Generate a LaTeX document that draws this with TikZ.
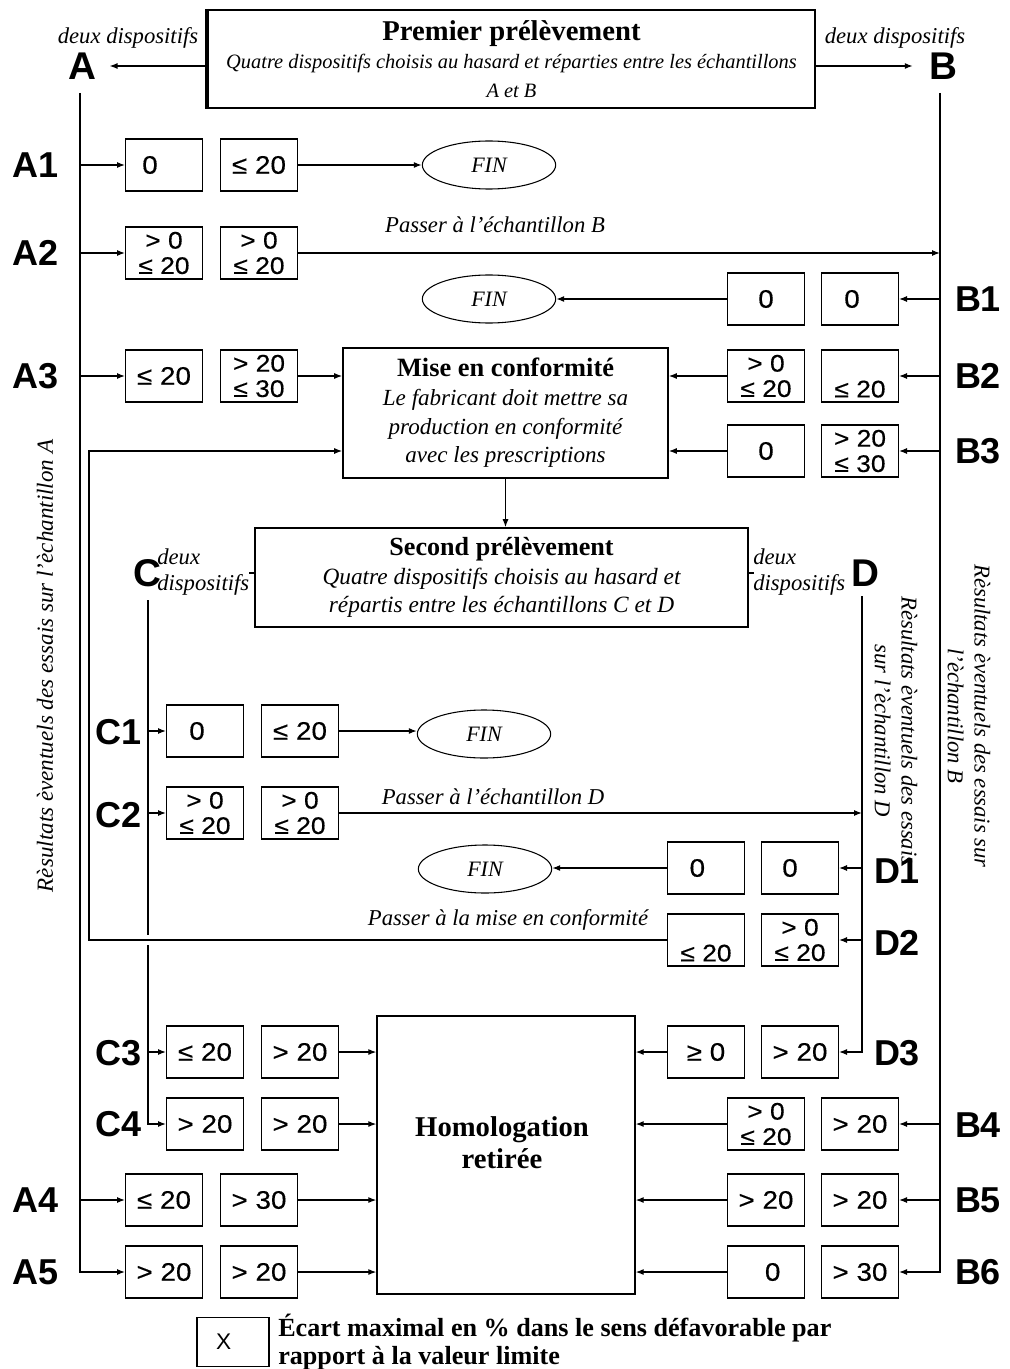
\documentclass[tikz,border=0pt]{standalone}
\usepackage{fontspec}
\setmainfont{Liberation Serif}
\newfontfamily\nf{Liberation Sans}
\newfontfamily\nfw[FakeStretch=1.1,FakeBold=0.4]{Liberation Sans}
\usetikzlibrary{arrows.meta,shapes.geometric,calc}
\tikzset{
 arr/.style={-{Latex[length=6pt,width=4.5pt]}, line width=0.9pt},
 ln/.style={line width=0.9pt},
 cell/.style={draw, line width=1pt, minimum width=57.5pt, minimum height=39pt, inner sep=0pt,
   font=\nfw\fontsize{19}{19}\selectfont, align=center},
 cellb/.style={cell, font=\nfw\fontsize{18}{19}\selectfont},
 lab/.style={font=\nf\bfseries\fontsize{27}{27}\selectfont, inner sep=0pt},
 biglab/.style={font=\nf\bfseries\fontsize{29}{29}\selectfont, inner sep=0pt},
 fin/.style={draw, ellipse, line width=0.8pt, minimum width=100pt, minimum height=36pt, inner sep=0pt,
   font=\itshape\fontsize{16.5}{16.5}\selectfont},
 itx/.style={font=\itshape\fontsize{17}{20}\selectfont, inner sep=0pt},
 bigbox/.style={draw, line width=1.2pt, inner sep=0pt, align=center},
}
\begin{document}
\begin{tikzpicture}[x=0.75pt,y=-0.75pt]
\useasboundingbox (0,0) rectangle (1009,1369);

% ---------- top box ----------
\node[bigbox, line width=1.8pt, minimum width=455pt, minimum height=73.5pt,
  font=\itshape\fontsize{15.3}{21.5}\selectfont] (top) at (511.5,59)
  {{\upshape\bfseries\fontsize{21.5}{21.5}\selectfont Premier prélèvement}\\
   Quatre dispositifs choisis au hasard et réparties entre les échantillons\\A et B};
\draw[line width=3pt] (top.north west) -- (top.south west);
\node[biglab] (lA) at (82,66) {A};
\node[biglab] (lB) at (943,66) {B};
\node[itx] (ddA) at (128,38) {deux dispositifs};
\node[itx] (ddB) at (895,38) {deux dispositifs};
\draw[arr, shorten >=10pt] (top.west |- lA) -- (lA.east);
\draw[arr, shorten >=12pt] (top.east |- lB) -- (lB.west);

\coordinate (Atop) at (80,93);
\coordinate (Btop) at (940,93);

% ---------- rows A / B ----------
\node[lab] (A1) at (36,165) {A1};
\node[cell] (a1l) at (164,165) {\hspace*{-21pt}0};
\node[cell] (a1r) at (259,165) {≤ 20};
\node[fin] (f1) at (489,165) {FIN};

\node[lab] (A2) at (36,253) {A2};
\node[cellb] (a2l) at (164,253) {> 0\\≤ 20};
\node[cellb] (a2r) at (259,253) {> 0\\≤ 20};
\node[itx] (pB) at (495,225) {Passer à l’échantillon B};

\node[lab] (B1) at (978,299) {B1};
\node[cell] (b1l) at (766,299) {0};
\node[cell] (b1r) at (860,299) {\hspace*{-12pt}0};
\node[fin] (f2) at (489,299) {FIN};

\node[lab] (A3) at (36,376) {A3};
\node[cell] (a3l) at (164,376) {≤ 20};
\node[cellb] (a3r) at (259,376) {> 20\\≤ 30};

\node[bigbox, minimum width=243.75pt, minimum height=97.5pt,
  font=\itshape\fontsize{17.3}{21.5}\selectfont] (mise) at (505.5,413)
  {{\upshape\bfseries\fontsize{19.8}{21.5}\selectfont Mise en conformité}\\
   Le fabricant doit mettre sa\\production en conformité\\avec les prescriptions};

\node[lab] (B2) at (978,376) {B2};
\node[cellb] (b2l) at (766,376) {> 0\\≤ 20};
\node[cellb] (b2r) at (860,376) {\strut\\≤ 20};

\node[lab] (B3) at (978,451) {B3};
\node[cell] (b3l) at (766,451) {0};
\node[cellb] (b3r) at (860,451) {> 20\\≤ 30};

% ---------- second box ----------
\node[bigbox, minimum width=369.75pt, minimum height=74.25pt,
  font=\itshape\fontsize{17.5}{21.5}\selectfont] (second) at (501.5,577.5)
  {{\upshape\bfseries\fontsize{19.6}{21.5}\selectfont Second prélèvement}\\
   Quatre dispositifs choisis au hasard et\\répartis entre les échantillons C et D};
\node[biglab] (lC) at (147,573) {C};
\node[biglab] (lD) at (865,573) {D};
\node[itx, anchor=west, align=left] (ddC) at (157,572) {deux\\dispositifs};
\node[itx, anchor=west, align=left] (ddD) at (753,572) {deux\\dispositifs};
\draw[ln] (second.west |- lC) -- ++(-5,0);
\draw[ln] (second.east |- lD) -- ++(5,0);

\coordinate (Ctop) at (148,600);
\coordinate (Dtop) at (862,596);

% ---------- rows C / D ----------
\node[lab] (C1) at (119,732) {C1};
\node[cell] (c1l) at (205,731) {\hspace*{-12pt}0};
\node[cell] (c1r) at (300,731) {≤ 20};
\node[fin] (f3) at (484,734) {FIN};

\node[lab] (C2) at (119,815) {C2};
\node[cellb] (c2l) at (205,813) {> 0\\≤ 20};
\node[cellb] (c2r) at (300,813) {> 0\\≤ 20};
\node[itx] (pD) at (493,797) {Passer à l’échantillon D};

\node[lab] (D1) at (897,871) {D1};
\node[cell] (d1l) at (706,868) {\hspace*{-13pt}0};
\node[cell] (d1r) at (800,868) {\hspace*{-15pt}0};
\node[fin] (f4) at (485,869) {FIN};

\node[lab] (D2) at (897,943) {D2};
\node[cellb] (d2l) at (706,940) {\strut\\≤ 20};
\node[cellb] (d2r) at (800,940) {> 0\\≤ 20};
\node[itx] (pM) at (508,920) {Passer à la mise en conformité};

% ---------- homologation ----------
\node[bigbox, line width=1pt, minimum width=193.5pt, minimum height=208.5pt] (hom) at (506,1155) {};
\node[align=center, inner sep=0pt, font=\bfseries\fontsize{21.5}{24}\selectfont] (homt) at (502,1143)
  {Homologation\\retirée};

\node[lab] (C3) at (119,1053) {C3};
\node[cell] (c3l) at (205,1052) {≤ 20};
\node[cell] (c3r) at (300,1052) {> 20};
\node[lab] (D3) at (897,1053) {D3};
\node[cell] (d3l) at (706,1052) {≥ 0};
\node[cell] (d3r) at (800,1052) {> 20};

\node[lab] (C4) at (119,1124) {C4};
\node[cell] (c4l) at (205,1124) {> 20};
\node[cell] (c4r) at (300,1124) {> 20};
\node[lab] (B4) at (978,1125) {B4};
\node[cellb] (b4l) at (766,1124) {> 0\\≤ 20};
\node[cell] (b4r) at (860,1124) {> 20};

\node[lab] (A4) at (36,1200) {A4};
\node[cell] (a4l) at (164,1200) {≤ 20};
\node[cell] (a4r) at (259,1200) {> 30};
\node[lab] (B5) at (978,1200) {B5};
\node[cell] (b5l) at (766,1200) {> 20};
\node[cell] (b5r) at (860,1200) {> 20};

\node[lab] (A5) at (36,1272) {A5};
\node[cell] (a5l) at (164,1272) {> 20};
\node[cell] (a5r) at (259,1272) {> 20};
\node[lab] (B6) at (978,1272) {B6};
\node[cell] (b6l) at (766,1272) {\hspace*{10pt}0};
\node[cell] (b6r) at (860,1272) {> 30};

% ---------- rotated texts ----------
\node[itx, rotate=90, font=\itshape\fontsize{17.3}{20}\selectfont] (rA) at (45,666) {Rèsultats èventuels des essais sur l’èchantillon A};
\node[itx, rotate=-90, align=center] (rB) at (969,716) {Rèsultats èventuels des essais sur\\l’èchantillon B};
\node[itx, rotate=-90, align=center] (rD) at (896,731) {Rèsultats èventuels des essais\\sur l’èchantillon D};

% ---------- legend ----------
\node[draw, line width=1pt, minimum width=54pt, minimum height=36.75pt, inner sep=0pt,
  font=\nf\fontsize{17}{17}\selectfont] (leg) at (233,1342) {\hspace*{-14pt}X};
\node[anchor=west, align=left, inner sep=0pt, font=\bfseries\fontsize{19.6}{21}\selectfont] (legt) at (278,1342)
  {Écart maximal en \% dans le sens défavorable par\\rapport à la valeur limite};

% ---------- connectors ----------
% A line
\draw[arr] (Atop) |- (a5l.west);
\foreach \n in {a1l,a2l,a3l,a4l}{\draw[arr] (\n.west -| Atop) -- (\n.west);}
% B line
\draw[arr] (Btop) |- (b6r.east);
\foreach \n in {b1r,b2r,b3r,b4r,b5r}{\draw[arr] (\n.east -| Btop) -- (\n.east);}
% C line
\draw[arr] (Ctop) |- (c4l.west);
\foreach \n in {c1l,c2l,c3l}{\draw[arr] (\n.west -| Ctop) -- (\n.west);}
% D line
\draw[arr] (Dtop) |- (d3r.east);
\foreach \n in {d1r,d2r}{\draw[arr] (\n.east -| Dtop) -- (\n.east);}

\draw[arr] (a1r.east) -- (f1.west);
\draw[arr] (a2r.east) -- (a2r.east -| Btop);
\draw[arr] (b1l.west) -- (f2.east);
\draw[arr] (a3r.east) -- (a3r.east -| mise.west);
\draw[arr] (b2l.west) -- (b2l.west -| mise.east);
\draw[arr] (b3l.west) -- (b3l.west -| mise.east);
\draw[arr] (mise.south) -- (mise.south |- second.north);

\draw[arr] (c1r.east) -- (c1r.east -| f3.west);
\draw[arr] (c2r.east) -- (c2r.east -| Dtop);
\draw[arr] (d1l.west) -- (d1l.west -| f4.east);

% return to conformity
\coordinate (ret) at (89,940);
\draw[white, line width=7pt] ($(ret -| Ctop)+(-8,0)$) -- ($(ret -| Ctop)+(8,0)$);
\draw[arr] (d2l.west) -- (ret) |- (b3l.west -| mise.west);

% into homologation
\foreach \n in {c3r,c4r,a4r,a5r}{\draw[arr] (\n.east) -- (\n.east -| hom.west);}
\foreach \n in {d3l,b4l,b5l,b6l}{\draw[arr] (\n.west) -- (\n.west -| hom.east);}
\end{tikzpicture}
\end{document}
